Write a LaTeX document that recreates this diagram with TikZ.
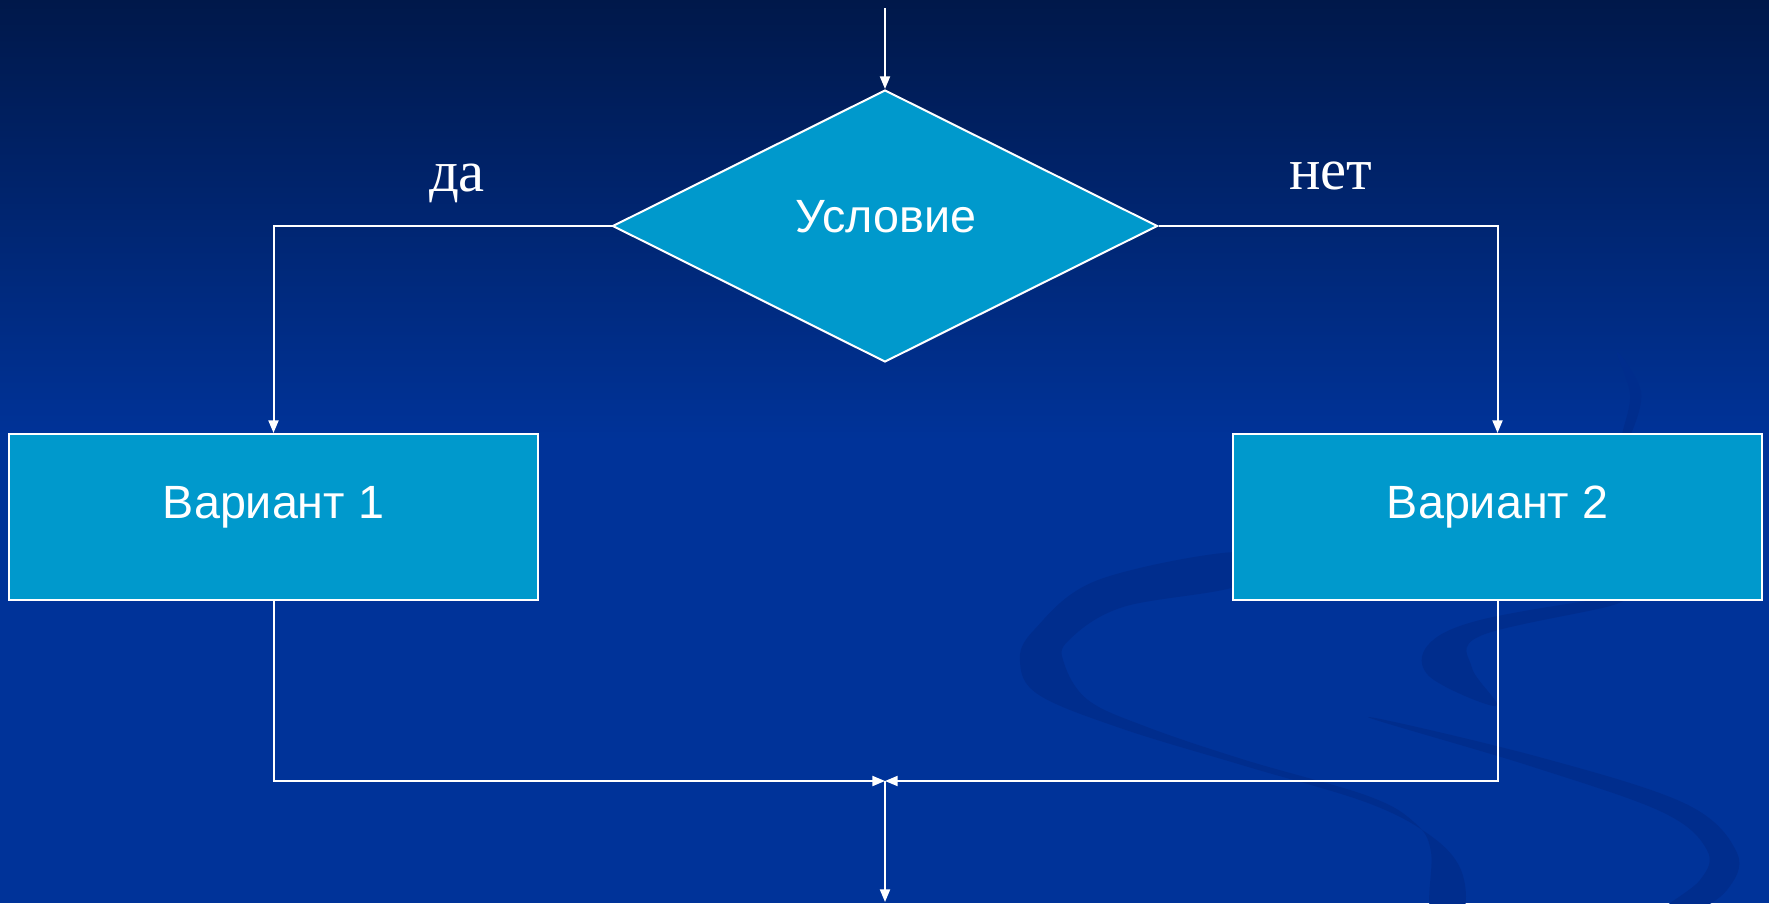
\documentclass[tikz,border=0pt]{standalone}
\usepackage{fontspec}
\setmainfont{Liberation Serif}
\newfontfamily\arialf{Liberation Sans}
\usetikzlibrary{shapes.geometric,arrows.meta}
\definecolor{bgtop}{RGB}{0,24,74}
\definecolor{bgmid}{RGB}{0,51,153}
\definecolor{swirl}{RGB}{0,45,141}
\definecolor{boxfill}{RGB}{0,153,204}
\tikzset{
  flowline/.style={draw=white, line width=1.5pt},
  arr/.style={flowline, -{Triangle[length=9.5pt,width=7.5pt]}},
  stepbox/.style={draw=white, line width=1.5pt, fill=boxfill, rectangle,
    minimum width=396.75pt, minimum height=124.5pt, inner sep=0pt},
  condbox/.style={draw=white, line width=1.5pt, fill=boxfill, diamond,
    minimum width=408.75pt, minimum height=204pt, inner sep=0pt, aspect=2},
  boxtext/.style={text=white, font=\arialf\fontsize{35}{40}\selectfont, inner sep=0pt},
  lbl/.style={text=white, font=\fontsize{44}{50}\selectfont, inner sep=0pt},
  swirlshape/.style={fill=swirl}
}
\begin{document}
\begin{tikzpicture}[x=0.75pt,y=-0.75pt]
% background
\useasboundingbox (0,0) rectangle (1769,903);
\fill[bgmid] (0,0) rectangle (1769,903);
\shade[top color=bgtop, bottom color=bgmid, middle color=bgmid, shading angle=0]
  (0,0) rectangle (1769,880);
\fill[bgmid] (0,600) rectangle (1769,903);
% decorative swirls
\fill[swirlshape] plot[smooth cycle, tension=0.6] coordinates {
  (1240,552) (1098,580) (1034,630) (1020,662) (1039,695) (1123,729)
  (1245,766) (1368,803) (1431,836) (1461,870) (1463,912) (1431,912)
  (1431,852) (1415,823) (1368,796) (1245,760) (1147,727) (1088,700)
  (1064,663) (1069,640) (1123,607) (1240,585)};
\fill[swirlshape] plot[smooth cycle, tension=0.6] coordinates {
  (1610,598) (1480,620) (1428,645) (1430,677) (1496,706)
  (1472,668) (1480,636) (1610,606)};
\fill[swirlshape] plot[smooth cycle, tension=0.6] coordinates {
  (1368,717) (1539,757) (1686,804) (1737,853) (1727,890) (1692,912)
  (1660,912) (1700,880) (1707,850) (1662,812) (1530,766)};
\fill[swirlshape] plot[smooth cycle, tension=0.6] coordinates {
  (1617,352) (1641,392) (1630,436) (1622,436) (1630,395)};
% nodes
\node[condbox] (cond) at (885,226) {};
\coordinate (start) at (cond.north |- 0,8);
\node[boxtext] (condt) at (886,217) {Условие};
\node[stepbox] (v1) at (273.5,517) {};
\node[boxtext] (v1t) at (273.5,507) {Вариант 1};
\node[stepbox] (v2) at (1497.5,517) {};
\node[boxtext] (v2t) at (1497.5,507) {Вариант 2};
\node[lbl] (yes) at (457,183) {да};
\node[lbl] (no) at (1331,176) {нет};
\coordinate (merge) at (cond.south |- 0,781);
\coordinate (finish) at (cond.south |- 0,902);
% connectors
\draw[arr] (start) -- (cond.north);
\draw[arr] (cond.west) -| (v1.north);
\draw[arr] (cond.east) -| (v2.north);
\draw[arr] (v1.south) |- (merge);
\draw[arr] (v2.south) |- (merge);
\draw[arr] (merge) -- (finish);
\end{tikzpicture}
\end{document}
